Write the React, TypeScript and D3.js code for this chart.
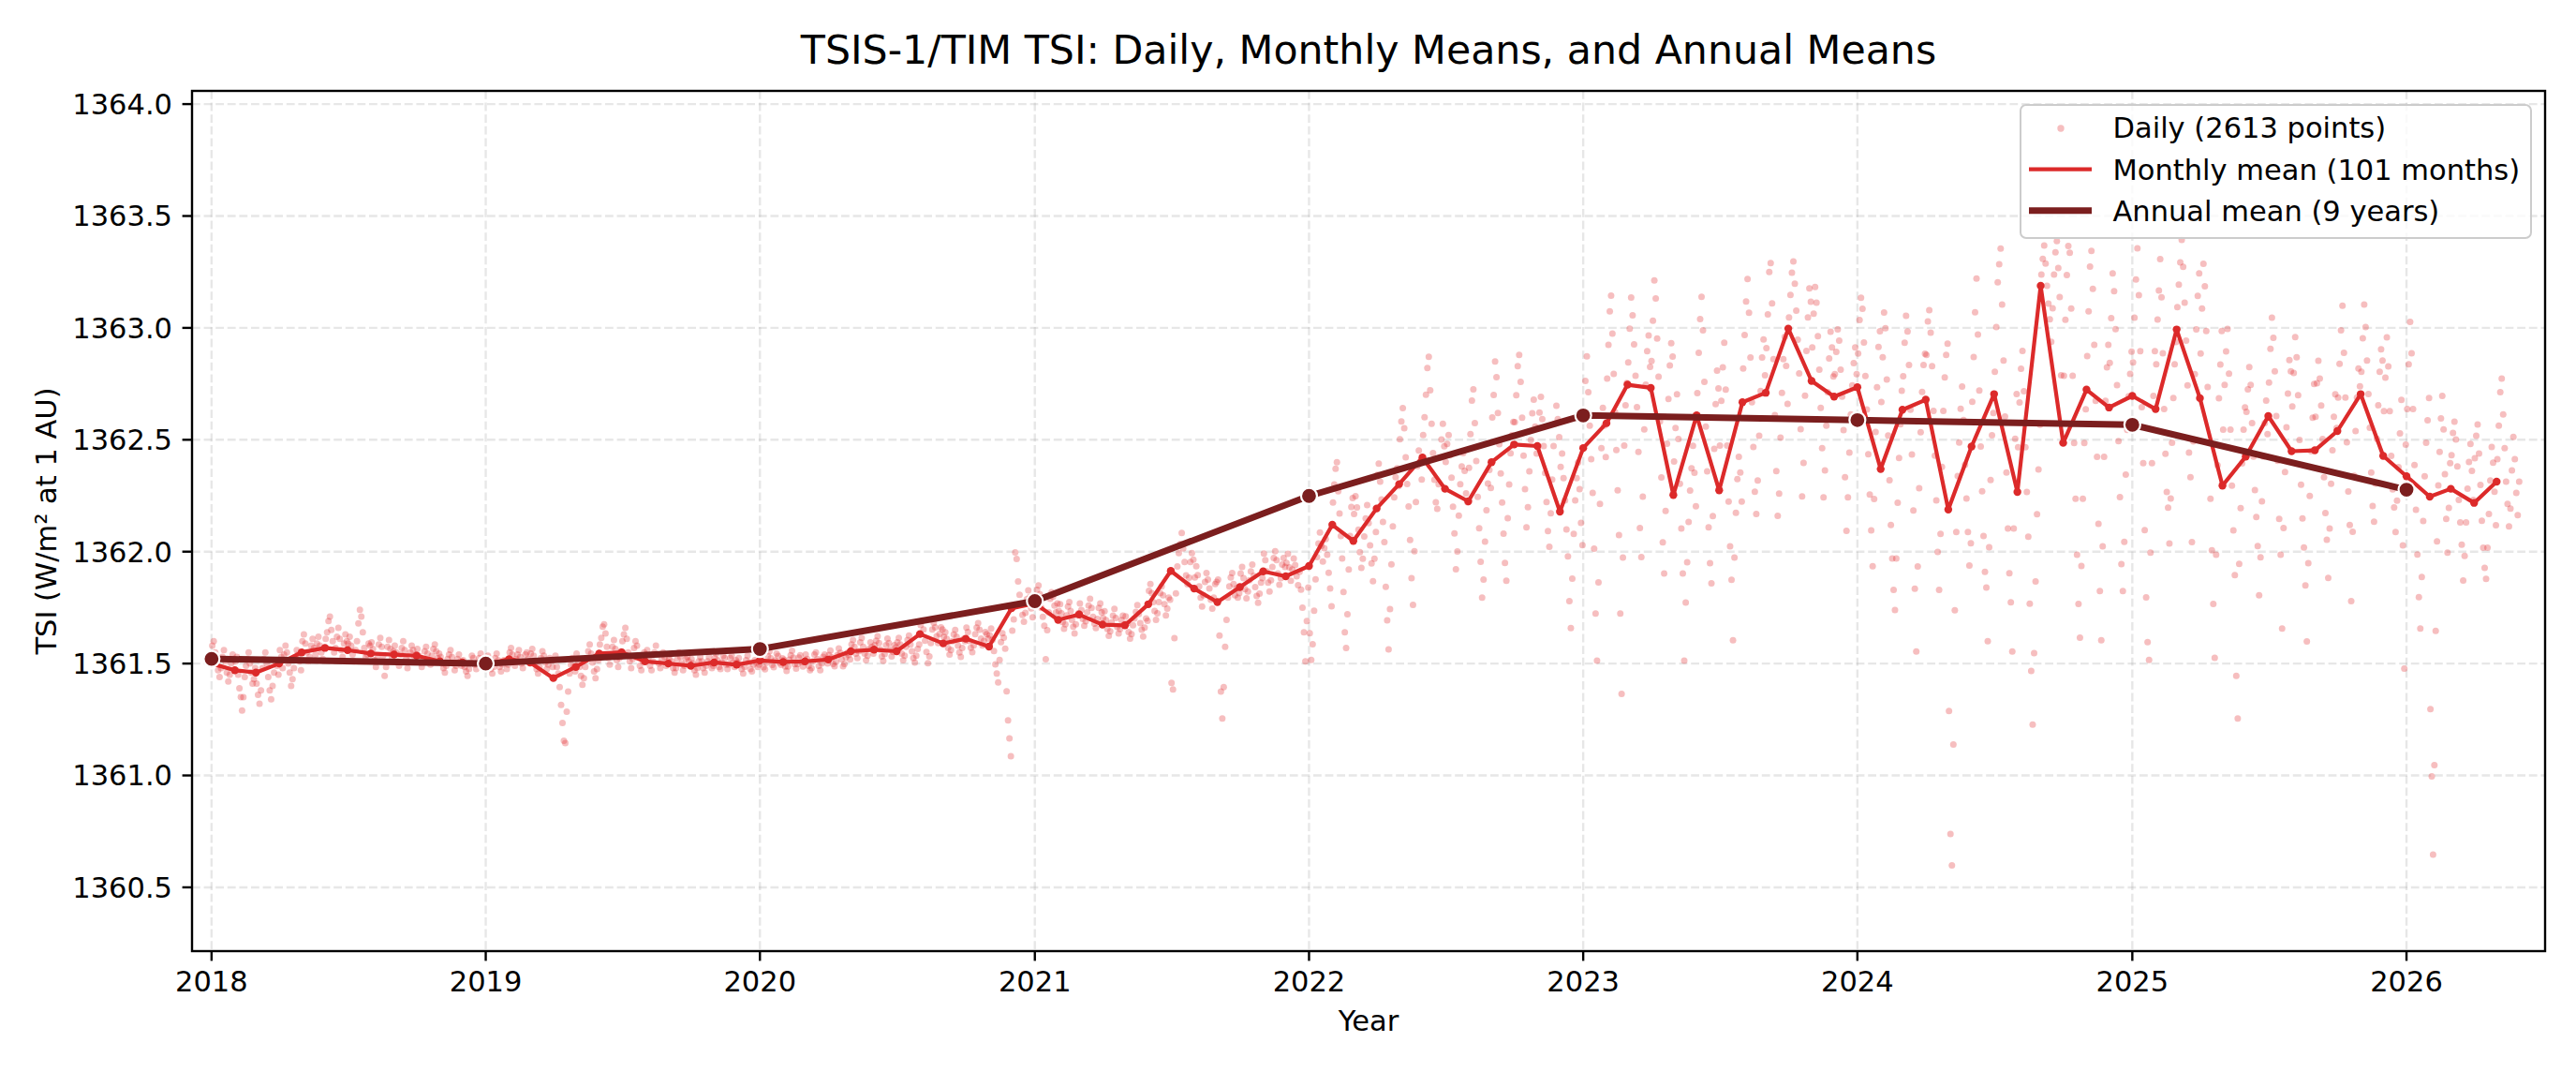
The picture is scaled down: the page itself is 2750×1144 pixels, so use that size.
import React from "react";
import * as d3 from "d3";

// ---------- data ----------
const YEARS = [2018, 2019, 2020, 2021, 2022, 2023, 2024, 2025, 2026];
const ANNUAL_MEANS = [1361.521, 1361.5, 1361.565, 1361.779, 1362.249, 1362.609, 1362.588, 1362.567, 1362.277];

// monthly means, Jan 2018 .. May 2026 (101 months)
const MONTHLY_MEANS = [
  1361.50, 1361.47, 1361.46, 1361.50, 1361.55, 1361.57, 1361.56, 1361.545, 1361.54, 1361.535, 1361.51, 1361.505,
  1361.495, 1361.52, 1361.505, 1361.435, 1361.485, 1361.545, 1361.55, 1361.51, 1361.50, 1361.49, 1361.505, 1361.495,
  1361.514, 1361.507, 1361.51, 1361.518, 1361.555, 1361.562, 1361.555, 1361.632, 1361.59, 1361.611, 1361.576, 1361.747,
  1361.769, 1361.695, 1361.719, 1361.674, 1361.671, 1361.765, 1361.914, 1361.835, 1361.775, 1361.842, 1361.912, 1361.89,
  1361.936, 1362.12, 1362.048, 1362.193, 1362.302, 1362.421, 1362.281, 1362.225, 1362.40, 1362.479, 1362.472, 1362.179,
  1362.463, 1362.574, 1362.746, 1362.732, 1362.253, 1362.609, 1362.274, 1362.668, 1362.71, 1362.997, 1362.763, 1362.693,
  1362.735, 1362.369, 1362.634, 1362.679, 1362.188, 1362.47, 1362.704, 1362.267, 1363.188, 1362.486, 1362.724, 1362.644,
  1362.696, 1362.637, 1362.993, 1362.686, 1362.295, 1362.425, 1362.606, 1362.449, 1362.453, 1362.539, 1362.704, 1362.428,
  1362.337, 1362.246, 1362.281, 1362.218, 1362.313,
];

// daily values as deviations from the monthly mean, in 0.01 W/m², one list per month
const DAILY_2018 = [
  [8, 10, 5, 2, -3, -6, -2, 3, 6, 1, -4, -8, -5, 0, 4, 2],
  [4, 6, -2, -8, -12, -18, -12, -3, 2, 5, 8, 3, -1, -6, -4, 1],
  [-5, -10, -14, -8, 2, 6, 9, 4, -2, -8, -12, -6, 0, 5, 3, -1],
  [6, 3, -2, 4, 8, 5, 0, -4, -10, -7, -2, 3, 6, 4, 1, -3],
  [5, 8, 4, 0, -4, -2, 3, 6, 2, -1, 4, 7, 3, 0, -3, 2],
  [4, 7, 12, 14, 8, 3, -2, 0, 5, 9, 4, -1, -4, 2, 6, 3],
  [3, 6, 2, -2, -5, 0, 4, 12, 18, 15, 8, 1, -3, -2, 3, 2],
  [5, 2, -3, -6, -2, 4, 7, 3, -1, -10, -6, 3, 6, 2, -2, 1],
  [4, 1, -3, -5, 0, 3, 6, 2, -2, -6, -3, 1, 4, 2, -1, 0],
  [3, 0, -3, -5, -2, 2, 4, 1, -2, -4, 0, 3, 5, 2, -1, 1],
  [2, -1, -3, -5, -2, 1, 3, 5, 2, -1, -4, -2, 1, 3, 0, -2],
  [1, -2, -4, -6, -3, 0, 3, 2, -1, -3, 0, 2, 4, 1, -1, 0],
];
const DAILY_2019 = [
  [2, 4, 1, -2, -4, -1, 3, 5, 2, -1, -3, 0, 2, 1, -2, 0],
  [3, 5, 2, -1, -3, 0, 2, 4, 1, -2, -4, -1, 2, 3, 0, -1],
  [4, 6, 3, 0, -3, -5, -2, 2, 5, 3, 0, -3, -1, 2, 1, -2],
  [8, 10, 5, 2, -4, -12, -20, -28, -29, -15, -6, 2, 6, 9, 5, 3],
  [6, 3, 0, -4, -8, -5, 0, 4, 7, 10, 6, 2, -2, -5, -1, 3],
  [4, 7, 12, 13, 9, 3, -2, -5, -1, 3, 6, 2, -3, -6, -2, 1],
  [5, 8, 11, 6, 0, -4, -7, -3, 2, 5, 3, -2, -6, -8, -4, 0],
  [3, 5, 2, -2, -4, 0, 4, 7, 3, -1, -3, 1, 4, 2, -2, 0],
  [2, 4, 1, -2, -4, -2, 2, 5, 3, 0, -3, -1, 2, 3, 1, -1],
  [3, 1, -2, -4, -1, 2, 4, 2, -1, -3, 0, 2, 4, 1, -1, 0],
  [2, 4, 1, -2, -3, 0, 3, 2, -1, -3, -1, 2, 3, 0, -2, 1],
  [1, 3, 0, -2, -4, -1, 2, 4, 1, -2, -3, 0, 2, 1, -1, 0],
];
const DAILY_2020 = [
  [2, 0, -3, -4, -1, 2, 4, 1, -2, -3, 0, 3, 2, -1, -2, 1],
  [1, -2, -4, -2, 1, 3, 5, 2, -1, -3, -1, 2, 3, 0, -2, 0],
  [3, 1, -2, -4, -3, 0, 3, 4, 1, -2, -4, -1, 2, 3, 1, -1],
  [2, 4, 1, -2, -3, -1, 2, 5, 3, 0, -3, -2, 1, 3, 2, 0],
  [3, 5, 2, -1, -3, 0, 4, 6, 2, -1, -4, -2, 1, 4, 2, -1],
  [2, 4, 6, 3, 0, -3, -5, -2, 2, 5, 3, 0, -3, -1, 2, 1],
  [4, 6, 3, -1, -4, -2, 2, 5, 7, 3, 0, -3, -5, -2, 1, 3],
  [4, 6, 2, -3, -8, -13, -10, -4, 2, 5, 3, -1, -4, 0, 3, 2],
  [3, 5, 2, -2, -5, -3, 1, 4, 6, 3, -1, -4, -6, -2, 2, 1],
  [5, 3, -1, -4, -6, -3, 2, 5, 7, 4, 0, -3, -1, 3, 2, 0],
  [5, 8, 3, -2, -8, -12, -16, -6, 2, 6, 4, -1, -20, -33, -41, -49],
  [-10, -5, 25, 22, 12, 6, 2, -3, -6, -2, 4, 8, 5, 0, -4, 2],
];
const DAILY_2021 = [
  [3, 6, 8, 4, -2, -6, -10, -25, -12, -4, 2, 5, 3, -1, -4, 0],
  [4, 7, 3, -1, -4, -2, 2, 6, 8, 4, 0, -3, -6, -2, 2, 3],
  [5, 2, -2, -5, -3, 1, 4, 7, 3, -1, -4, -6, -2, 3, 5, 1],
  [3, 6, 2, -2, -5, -3, 1, 4, 7, 3, -1, -4, -2, 2, 4, 0],
  [4, 1, -3, -6, -4, 0, 3, 6, 9, 5, 1, -2, -5, -1, 3, 2],
  [6, 9, 5, 1, -3, -7, -4, 1, 5, 8, 4, 0, -5, -2, 3, 2],
  [-50, -53, -30, -10, 2, 8, 12, 17, 10, 4, -2, -6, -3, 4, 8, 5],
  [5, 10, 6, 1, -4, -8, -3, 3, 7, 4, 0, -5, -9, -4, 2, 3],
  [10, -15, -40, -52, -38, -20, -8, 2, 7, 11, 13, 8, 3, 6, 2, 4],
  [6, 9, 4, -1, -5, -2, 3, 7, 10, 5, 0, -4, -7, -3, 2, 4],
  [8, 5, 0, -5, -9, -4, 2, 6, 9, 5, -1, -6, -3, 3, 6, 2],
  [6, 10, 4, -2, 3, 8, 5, 0, -4, 2, -6, -14, -25, -38, -20, -5],
];
const DAILY_2022 = [
  [-30, -42, -35, -20, -6, 4, 10, 15, 9, 2, 8, 12, 5, -3, -10, -18],
  [10, 18, 25, 28, 15, 5, -5, -15, -30, -48, -55, -40, -20, -5, 8, 12],
  [12, 20, 15, 5, -5, -12, -8, 2, 10, 16, 8, -2, -10, -18, -8, 4],
  [15, 20, 12, 4, -6, -15, -35, -50, -63, -45, -25, -8, 5, 14, 18, 10],
  [20, 28, 34, 25, 12, 0, -10, -25, -42, -54, -30, -8, 8, 15, 10, 2],
  [10, 18, 28, 40, 45, 30, 15, 2, -10, -20, -23, -12, 0, 8, 15, 5],
  [12, 20, 24, 15, 5, -8, -20, -36, -28, -12, 2, 10, 16, 8, -2, -6],
  [15, 30, 45, 50, 35, 18, 2, -12, -27, -43, -35, -18, -4, 8, 14, 6],
  [20, 30, 45, 38, 22, 8, -5, -18, -32, -45, -53, -25, -10, 4, 12, 18],
  [10, 22, 35, 40, 28, 12, -5, -20, -37, -28, -12, 2, 14, 20, 8, -4],
  [8, 15, 22, 12, 0, -12, -25, -38, -45, -30, -15, 0, 10, 18, 12, 4],
  [20, 26, 15, 5, -8, -20, -40, -52, -30, -10, 5, 15, 22, 10, -5, -15],
];
const DAILY_2023 = [
  [15, 30, 41, 25, 10, -5, -20, -45, -74, -95, -60, -25, 0, 18, 10, -4],
  [20, 35, 50, 57, 40, 22, 5, -12, -30, -50, -85, -121, -60, -10, 8, 18],
  [10, 25, 39, 31, 18, 4, -10, -30, -64, -77, -50, -20, 0, 15, 22, 8],
  [12, 30, 48, 40, 22, 5, -15, -40, -69, -83, -55, -25, -5, 10, 20, 14],
  [15, 30, 45, 25, 5, -15, -35, -74, -48, -30, -12, 2, 12, 22, 10, -5],
  [10, 28, 43, 53, 38, 15, -5, -25, -50, -66, -75, -45, -15, 5, 20, 12],
  [20, 40, 55, 66, 45, 20, -5, -25, -40, -67, -30, -10, 5, 15, 8, -5],
  [15, 30, 45, 55, 40, 20, 0, -20, -40, -50, -35, -15, 5, 20, 28, 12],
  [20, 35, 54, 58, 40, 15, -10, -35, -55, -45, -20, 0, 15, 25, 12, -5],
  [5, 15, 25, 30, 20, 8, -5, -20, -45, -75, -60, -30, -10, 5, 18, 12],
  [15, 30, 42, 35, 20, 5, -12, -30, -52, -40, -20, -5, 10, 22, 15, 2],
  [10, 20, 30, 25, 12, 0, -15, -36, -60, -45, -25, -8, 5, 15, 22, 10],
];
const DAILY_2024 = [
  [15, 30, 40, 35, 20, 5, -10, -30, -48, -64, -80, -50, -20, 0, 18, 25],
  [30, 50, 70, 63, 40, 15, -5, -25, -40, -54, -63, -40, -15, 5, 20, 35],
  [15, 30, 42, 35, 20, 0, -20, -45, -80, -108, -70, -35, -10, 8, 20, 25],
  [20, 35, 40, 30, 15, -5, -25, -45, -68, -85, -60, -30, -5, 10, 20, 25],
  [-90, -145, -159, -105, -45, -10, 15, 30, 45, 55, 40, 20, 5, -10, -25, -15],
  [20, 40, 60, 75, 50, 25, 0, -20, -40, -56, -63, -87, -45, -15, 5, 15],
  [10, 30, 50, 58, 65, 40, 15, -10, -35, -60, -80, -93, -115, -60, -20, 0],
  [20, 40, 55, 63, 45, 20, 0, -20, -50, -80, -104, -72, -40, -10, 10, 30],
  [5, 12, 18, 10, 0, -8, -15, -25, -10, 5, 15, 20, 8, -5, -40, -70],
  [30, 55, 75, 88, 85, 60, 30, 0, -25, -50, -72, -87, -55, -25, 0, 15],
  [15, 35, 55, 62, 45, 20, -5, -30, -60, -90, -112, -70, -30, -5, 10, 20],
  [20, 40, 60, 52, 35, 10, -15, -40, -70, -82, -60, -30, -10, 5, 15, 25],
];
const DAILY_2025 = [
  [15, 35, 52, 66, 45, 20, -5, -30, -60, -90, -110, -118, -70, -30, 0, 20],
  [20, 40, 53, 67, 50, 25, 0, -20, -37, -44, -60, -40, -15, 5, 20, 30],
  [10, 20, 30, 40, 28, 12, -5, -25, -55, -66, -95, -50, -20, 0, 15, 25],
  [20, 40, 60, 50, 30, 5, -20, -45, -68, -92, -116, -70, -30, 0, 15, 30],
  [25, 45, 60, 70, 50, 25, 0, -20, -40, -85, -104, -35, -10, 10, 25, 35],
  [20, 30, 40, 32, 15, 0, -15, -27, -40, -62, -45, -20, 0, 15, 25, 10],
  [15, 30, 44, 35, 20, 0, -20, -46, -62, -95, -50, -25, -5, 10, 25, 20],
  [20, 35, 51, 42, 25, 5, -15, -30, -43, -60, -85, -50, -20, 0, 15, 30],
  [15, 30, 40, 32, 20, 5, -12, -28, -40, -57, -35, -15, 0, 15, 25, 10],
  [15, 30, 45, 56, 35, 15, -5, -27, -42, -76, -45, -20, 0, 15, 28, 20],
  [10, 25, 40, 30, 15, 0, -15, -35, -50, -57, -40, -20, -5, 10, 20, 15],
  [20, 35, 53, 40, 20, 0, -15, -23, -34, -20, -5, 10, 25, -40, -95, 5],
];
const DAILY_2026 = [
  [30, 50, 69, 55, 30, 5, -15, -35, -54, -68, -45, -20, 0, 15, 25, 35],
  [-95, -125, -160, -120, -60, -20, 5, 20, 35, 45, 30, 10, -10, -25, -5, 15],
  [15, 25, 30, 22, 10, -5, -15, -25, -41, -30, -15, 0, 12, 20, 8, -5],
  [20, 30, 35, 22, 8, -8, -20, -29, -34, -20, -5, 10, 25, 18, 5, -10],
  [10, 25, 40, 46, 30, 15, 0, -10, -20, -12, 5, 20, 10, -5, -15, 0],
];
const DAILY_BY_YEAR = [DAILY_2018, DAILY_2019, DAILY_2020, DAILY_2021, DAILY_2022, DAILY_2023, DAILY_2024, DAILY_2025, DAILY_2026];

const Y_TICKS = [1360.5, 1361.0, 1361.5, 1362.0, 1362.5, 1363.0, 1363.5, 1364.0];

const TITLE = "TSIS-1/TIM TSI: Daily, Monthly Means, and Annual Means";
const X_LABEL = "Year";
const Y_LABEL = "TSI (W/m² at 1 AU)";
const LEGEND_LABELS = ["Daily (2613 points)", "Monthly mean (101 months)", "Annual mean (9 years)"];

// ---------- styling ----------
const FONT = "DejaVu Sans";
const DAILY_COLOR = "#e0282a";
const MONTHLY_COLOR = "#dc2a2a";
const ANNUAL_COLOR = "#7b1e1e";
const FS = 30.5;

export default function App() {
  const W = 2750;
  const H = 1144;
  const left = 205, right = 2717, top = 97, bottom = 1015;

  const x = d3.scaleTime().domain([new Date(2017, 11, 6), new Date(2026, 6, 4, 12)]).range([left, right]);
  const y = d3.scaleLinear().domain([1360.215, 1364.059]).range([bottom, top]);

  const monthly = MONTHLY_MEANS.map((v, i) => ({ t: new Date(2018, i, 1), v }));
  const annual = ANNUAL_MEANS.map((v, i) => ({ t: new Date(YEARS[i], 0, 1), v }));

  const daily: { t: Date; v: number }[] = [];
  DAILY_BY_YEAR.forEach((months, yi) => {
    months.forEach((devs, mi) => {
      const idx = yi * 12 + mi;
      const start = new Date(2018 + yi, mi, 1).getTime();
      const end = new Date(2018 + yi, mi + 1, 1).getTime();
      const base = MONTHLY_MEANS[idx];
      devs.forEach((d, k) => {
        daily.push({ t: new Date(start + ((k + 0.5) / devs.length) * (end - start)), v: base + d / 100 });
      });
    });
  });

  const line = d3
    .line<{ t: Date; v: number }>()
    .x((d) => x(d.t))
    .y((d) => y(d.v));

  const yearTicks = YEARS.map((yr) => new Date(yr, 0, 1));
  const fmtY = d3.format(".1f");

  const gridStyle = { stroke: "#b0b0b0", strokeOpacity: 0.3, strokeWidth: 2.4, strokeDasharray: "8.8,3.8" };

  return (
    <svg
      width={W}
      height={H}
      viewBox={`0 0 ${W} ${H}`}
      style={{ position: "absolute", left: 0, top: 0, background: "#fff" }}
      fontFamily={FONT}
    >
      <rect x={0} y={0} width={W} height={H} fill="#fff" />
      <defs>
        <clipPath id="plotclip">
          <rect x={left} y={top} width={right - left} height={bottom - top} />
        </clipPath>
      </defs>

      {/* grid */}
      <g>
        {yearTicks.map((t, i) => (
          <line key={"gx" + i} x1={x(t)} x2={x(t)} y1={top} y2={bottom} {...gridStyle} />
        ))}
        {Y_TICKS.map((v, i) => (
          <line key={"gy" + i} x1={left} x2={right} y1={y(v)} y2={y(v)} {...gridStyle} />
        ))}
      </g>

      <g clipPath="url(#plotclip)">
        {/* daily scatter */}
        {daily.map((d, i) => (
          <circle key={"d" + i} cx={x(d.t)} cy={y(d.v)} r={3.5} fill={DAILY_COLOR} fillOpacity={0.3} />
        ))}
        {/* monthly */}
        <path d={line(monthly) || ""} fill="none" stroke={MONTHLY_COLOR} strokeWidth={4.2} strokeLinejoin="round" />
        {monthly.map((d, i) => (
          <circle key={"m" + i} cx={x(d.t)} cy={y(d.v)} r={4.2} fill={MONTHLY_COLOR} />
        ))}
        {/* annual */}
        <path d={line(annual) || ""} fill="none" stroke={ANNUAL_COLOR} strokeWidth={7} strokeLinejoin="round" />
        {annual.map((d, i) => (
          <circle key={"a" + i} cx={x(d.t)} cy={y(d.v)} r={8.5} fill={ANNUAL_COLOR} stroke="#fff" strokeWidth={2.2} />
        ))}
      </g>

      {/* spines */}
      <rect x={left} y={top} width={right - left} height={bottom - top} fill="none" stroke="#000" strokeWidth={2.4} />

      {/* x ticks */}
      {yearTicks.map((t, i) => (
        <g key={"xt" + i}>
          <line x1={x(t)} x2={x(t)} y1={bottom} y2={bottom + 10.4} stroke="#000" strokeWidth={2.4} />
          <text x={x(t)} y={1058} fontSize={FS} textAnchor="middle" fill="#000">
            {YEARS[i]}
          </text>
        </g>
      ))}
      {/* y ticks */}
      {Y_TICKS.map((v, i) => (
        <g key={"yt" + i}>
          <line x1={left - 10.4} x2={left} y1={y(v)} y2={y(v)} stroke="#000" strokeWidth={2.4} />
          <text x={184} y={y(v) + 10.9} fontSize={FS} textAnchor="end" fill="#000">
            {fmtY(v)}
          </text>
        </g>
      ))}

      {/* axis labels */}
      <text x={(left + right) / 2} y={1100} fontSize={FS} textAnchor="middle" fill="#000">
        {X_LABEL}
      </text>
      <text
        transform={`translate(60,${(top + bottom) / 2}) rotate(-90)`}
        fontSize={FS}
        textAnchor="middle"
        fill="#000"
      >
        {Y_LABEL}
      </text>

      {/* title */}
      <text x={(left + right) / 2} y={68} fontSize={42.7} textAnchor="middle" fill="#000">
        {TITLE}
      </text>

      {/* legend */}
      <g>
        <rect x={2157} y={112} width={545} height={142} rx={6} ry={6} fill="#fff" fillOpacity={0.8} stroke="#cccccc" strokeWidth={2} />
        <circle cx={2200} cy={137} r={3.7} fill={DAILY_COLOR} fillOpacity={0.3} />
        <line x1={2166} x2={2233} y1={180.6} y2={180.6} stroke={MONTHLY_COLOR} strokeWidth={4.2} />
        <line x1={2166} x2={2233} y1={224.8} y2={224.8} stroke={ANNUAL_COLOR} strokeWidth={7} />
        {LEGEND_LABELS.map((s, i) => (
          <text key={"lg" + i} x={2255.5} y={147.3 + i * 44.3} fontSize={FS} fill="#000">
            {s}
          </text>
        ))}
      </g>
    </svg>
  );
}
